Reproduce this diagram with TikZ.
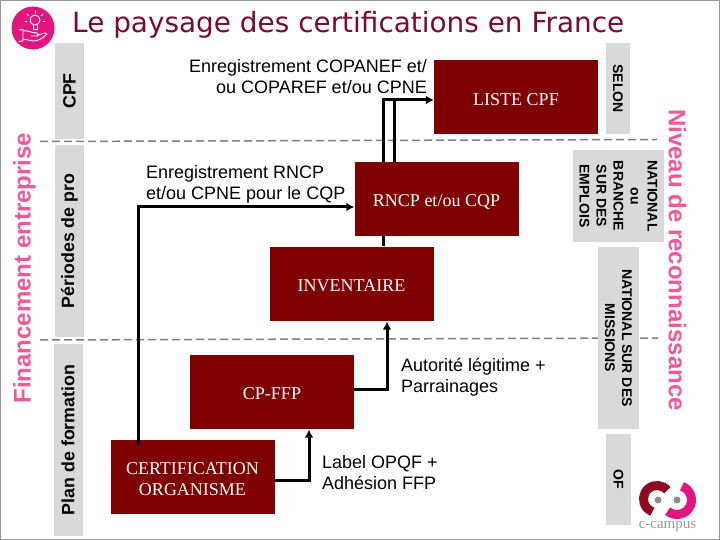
\documentclass[tikz,border=0pt]{standalone}
\usepackage{fontspec}
\setmainfont{Liberation Sans}
\newfontfamily\serifbox{Liberation Serif}
\newfontfamily\titlefont{DejaVu Sans}
\usetikzlibrary{arrows.meta,calc}
\definecolor{boxred}{HTML}{7F0000}
\definecolor{boxgray}{HTML}{D9D9D9}
\definecolor{titlered}{HTML}{7A0A35}
\definecolor{sidepink}{HTML}{F0589A}
\definecolor{iconpink}{HTML}{E2147F}
\definecolor{logored}{HTML}{8F0A1E}
\newcommand\lowerstrut{\rule{0pt}{17pt}}
\tikzset{
  redbox/.style={fill=boxred,draw=none,inner sep=0pt,minimum width=164pt,minimum height=74pt,text=white,align=center,font=\serifbox\fontsize{18}{21}\selectfont},
  graybox/.style={fill=boxgray,draw=none,inner sep=0pt,rotate=-90,align=center,font=\bfseries\fontsize{14}{17}\selectfont},
  leftbox/.style={fill=boxgray,draw=none,inner sep=0pt,rotate=90,minimum height=29pt,font=\bfseries\fontsize{17.8}{20}\selectfont},
  sidelabel/.style={text=sidepink,inner sep=0pt,font=\bfseries\fontsize{24}{28}\selectfont},
  lbl/.style={inner sep=0pt,font=\fontsize{18}{21}\selectfont},
  conn/.style={line width=3pt,-{Latex[length=8pt,width=9pt]}},
  plainconn/.style={line width=3pt},
  sep/.style={line width=1.5pt,color=black!50,dash pattern=on 8pt off 4pt},
  iconline/.style={draw=white,line width=0.9pt,line cap=round,line join=round},
}
\begin{document}
\begin{tikzpicture}[x=1pt,y=-1pt]
\useasboundingbox (0,0) rectangle (720,540);
\fill[white] (0,0) rectangle (720,540);
\draw[black!40,line width=1pt] (0.5,0.5) rectangle (719.5,539.5);

% separators
\coordinate (s1a) at (40,141.5);
\coordinate (s1b) at (657,139.5);
\coordinate (s2a) at (40,340);
\coordinate (s2b) at (658,338);
\draw[sep] (s1a) -- (s1b);
\draw[sep] (s2a) -- (s2b);

% title
\node[anchor=west,inner sep=0pt,text=titlered,font=\titlefont\fontsize{27.9}{30}\selectfont] (title) at (72,25) {Le paysage des certifications en France};

% left gray boxes
\node[leftbox,minimum width=96pt] (cpf) at (69.5,91) {CPF};
\node[leftbox,minimum width=192pt] (periodes) at (69.5,241) {Périodes de pro};
\node[leftbox,minimum width=192pt] (plan) at (68,440) {Plan de formation};

% right gray boxes
\node[graybox,minimum width=91pt,minimum height=24pt] (selon) at (618,88.5) {SELON};
\node[graybox,minimum width=91pt,minimum height=91pt] (national) at (618.5,196) {NATIONAL\\ou\\BRANCHE\\SUR DES\\EMPLOIS};
\node[graybox,minimum width=182pt,minimum height=41pt] (missions) at (618.5,338) {NATIONAL SUR DES\\MISSIONS};
\node[graybox,minimum width=91pt,minimum height=25pt] (of) at (618.5,479.5) {OF};

% side labels
\node[sidelabel,rotate=90] (fin) at (24.5,268) {Financement entreprise};
\node[sidelabel,rotate=-90] (niv) at (677.5,260) {Niveau de reconnaissance};

% red boxes
\node[redbox] (liste) at (516,97) {\lowerstrut LISTE CPF};
\node[redbox] (rncp) at (436.5,199) {\lowerstrut RNCP et/ou CQP};
\node[redbox] (inv) at (351.5,283.5) {\lowerstrut INVENTAIRE};
\node[redbox] (cpffp) at (272,391.5) {\lowerstrut CP-FFP};
\node[redbox] (cert) at (192.5,476.5) {\lowerstrut CERTIFICATION\\ORGANISME};

% connectors
\coordinate (e1) at (138,207);
\coordinate (e2) at (309,480);
\coordinate (e3) at (387,389);
\coordinate (e4) at (383,100);
\coordinate (e5) at (394,100);
\coordinate (start1) at (138,445);
\draw[conn] (start1) -- (e1) -- (rncp.west |- e1);
\draw[conn] (cert.east |- e2) -- (e2) -- ($(cpffp.south -| e2)+(0,1)$);
\draw[conn] (cpffp.east |- e3) -- (e3) -- ($(inv.south -| e3)+(0,1)$);
\draw[plainconn] (inv.north -| e4) -- (rncp.south -| e4);
\draw[conn] (rncp.north -| e4) -- (e4) -- (liste.west |- e4);
\draw[plainconn] (rncp.north -| e5) -- (e5);

% labels
\node[lbl,anchor=east,align=right] (t1) at (427,77) {Enregistrement COPANEF et/\\ou COPAREF et/ou CPNE};
\node[lbl,anchor=west,align=left] (t2) at (146,184) {Enregistrement RNCP\\et/ou CPNE pour le CQP};
\node[lbl,anchor=west,align=left] (t3) at (401,377) {Autorité légitime +\\Parrainages};
\node[lbl,anchor=west,align=left] (t4) at (322,473) {Label OPQF +\\Adhésion FFP};

% icon
\coordinate (ic) at (33,28);
\fill[iconpink] (ic) circle[radius=21.5pt];
\draw[iconline] (35,20) circle[radius=5pt];
\draw[iconline] (33,25) -- (33,29) -- (37,29) -- (37,25);
\draw[iconline] (35,11) -- (35,13);
\draw[iconline] (27,14) -- (28.5,15.5);
\draw[iconline] (43,14) -- (41.5,15.5);
\draw[iconline] (25,21) -- (27,21);
\draw[iconline] (43,21) -- (45,21);
\draw[iconline] (19,30) -- (23,29.5) -- (23,41) -- (19,41.5);
\draw[iconline] (23,31) .. controls (28,30) and (31,33) .. (37,33) -- (38,36) -- (31,36);
\draw[iconline] (38,35) -- (45,33) -- (47,34) .. controls (42,39) and (38,41) .. (33,41) -- (23,39);

% logo
\coordinate (lc) at (657,499);
\coordinate (rc) at (677,500);
\draw[logored,line width=9pt] ([shift={(40:13.5pt)}]lc) arc[start angle=40,end angle=250,radius=13.5pt];
\draw[iconpink,line width=9pt] ([shift={(70:14.5pt)}]rc) arc[start angle=70,end angle=-130,radius=14.5pt];
\fill[black!45] (658,500) circle[radius=3.5pt];
\fill[black!45] (677,500) circle[radius=3.5pt];
\node[text=black!40,inner sep=0pt,font=\serifbox\fontsize{15}{16}\selectfont] (logo) at (667.5,527) {c-campus};
\end{tikzpicture}
\end{document}
